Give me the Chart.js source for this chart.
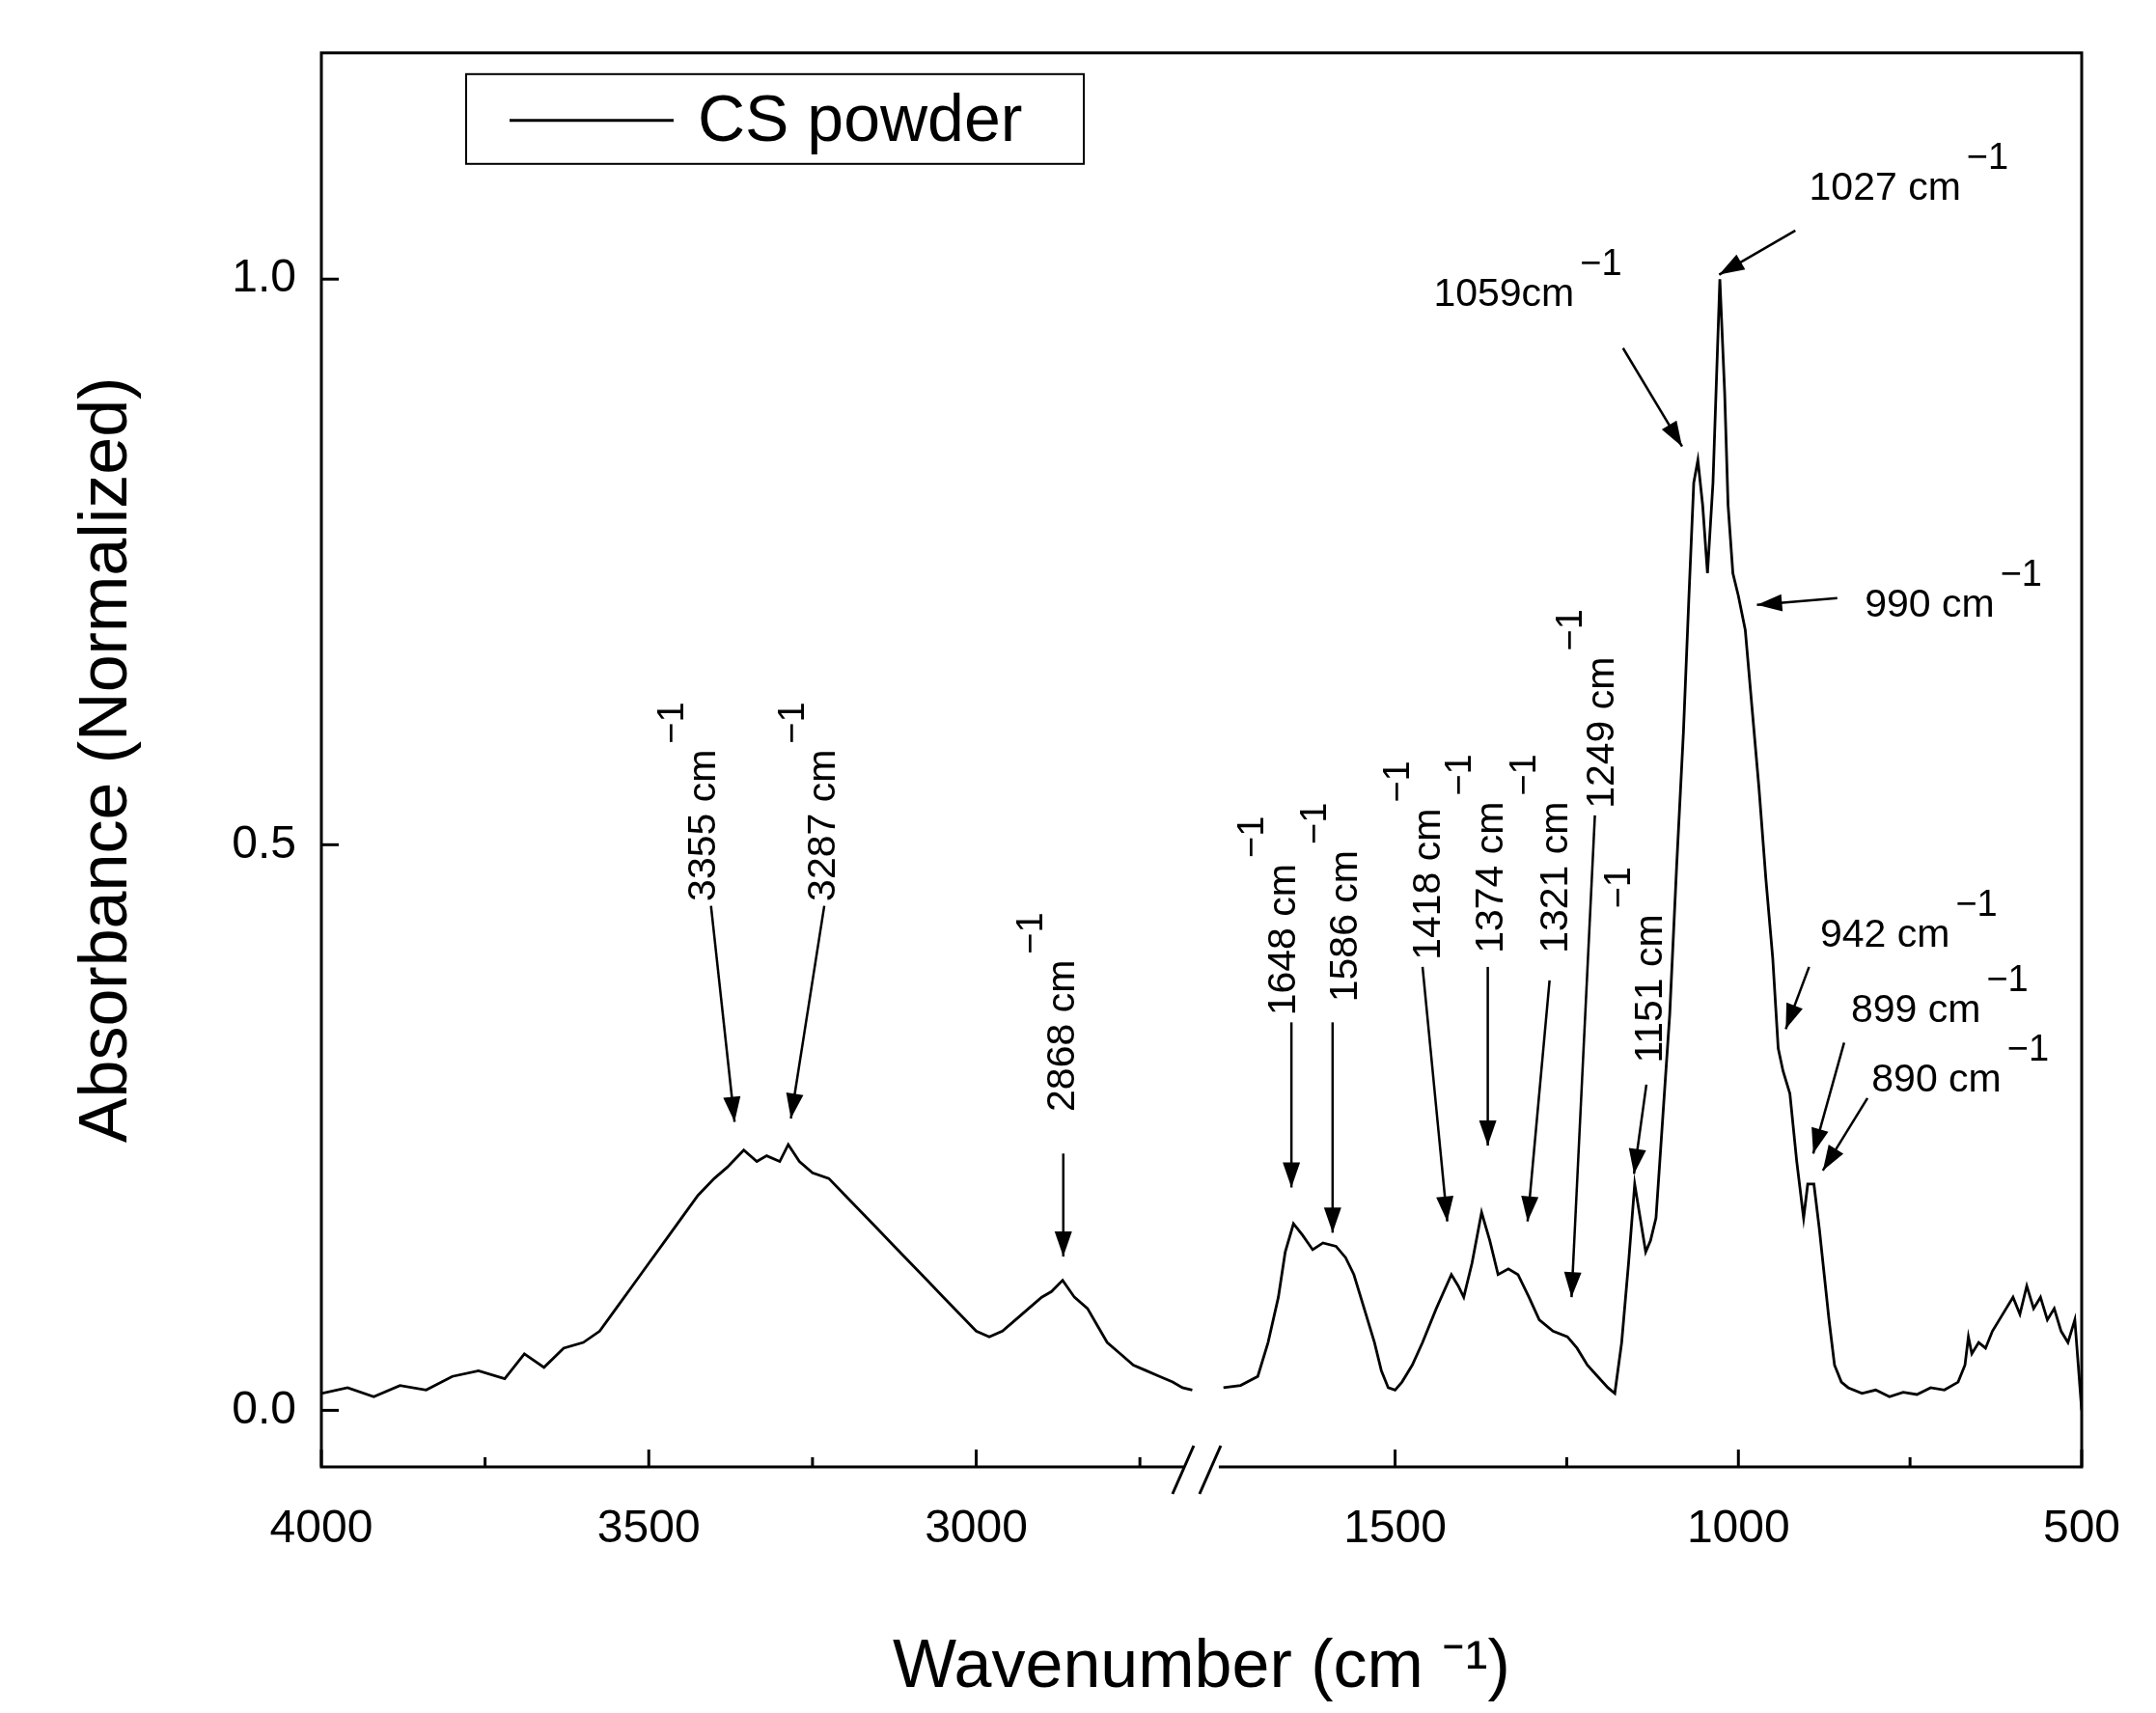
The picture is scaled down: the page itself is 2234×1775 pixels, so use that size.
<!DOCTYPE html>
<html><head><meta charset="utf-8">
<script src="https://cdn.jsdelivr.net/npm/chart.js@4"></script>
<style>html,body{margin:0;padding:0;background:#fff}#wrap{width:2234px;height:1775px}</style>
</head><body><div id="wrap"><canvas id="c"></canvas></div>
<script>
// ---- data ----
const seriesName = "CS powder";
const wnHigh = [4000,3960,3920,3880,3840,3800,3760,3720,3690,3660,3630,3600,3575,3550,3525,3500,3475,3450,3425,3400,3380,3355,3335,3320,3300,3287,3270,3250,3225,3200,3175,3150,3125,3100,3075,3050,3025,3000,2980,2960,2940,2920,2900,2885,2868,2850,2830,2815,2800,2780,2760,2740,2720,2700,2685,2670];
const absHigh = [0.015,0.02,0.012,0.022,0.018,0.03,0.035,0.028,0.05,0.038,0.055,0.06,0.07,0.09,0.11,0.13,0.15,0.17,0.19,0.205,0.215,0.23,0.22,0.225,0.22,0.235,0.22,0.21,0.205,0.19,0.175,0.16,0.145,0.13,0.115,0.1,0.085,0.07,0.065,0.07,0.08,0.09,0.1,0.105,0.115,0.1,0.09,0.075,0.06,0.05,0.04,0.035,0.03,0.025,0.02,0.018];
const wnLow = [1750,1725,1700,1685,1670,1660,1648,1635,1620,1605,1586,1572,1560,1545,1530,1520,1510,1500,1490,1475,1460,1440,1418,1408,1400,1388,1374,1362,1350,1335,1321,1305,1290,1270,1249,1235,1220,1205,1190,1180,1170,1160,1151,1143,1135,1128,1120,1110,1100,1090,1080,1072,1065,1059,1052,1045,1037,1027,1020,1015,1008,1000,990,980,970,960,950,942,935,925,915,905,899,890,882,875,868,860,850,840,820,800,780,760,740,720,700,680,670,665,660,650,640,630,620,610,600,590,580,570,560,550,540,530,520,510,505,500];
const absLow = [0.02,0.022,0.03,0.06,0.1,0.14,0.165,0.155,0.142,0.148,0.145,0.135,0.12,0.09,0.06,0.035,0.02,0.018,0.025,0.04,0.06,0.09,0.12,0.11,0.1,0.13,0.175,0.15,0.12,0.125,0.12,0.1,0.08,0.07,0.065,0.055,0.04,0.03,0.02,0.015,0.06,0.13,0.2,0.17,0.14,0.15,0.17,0.26,0.35,0.48,0.6,0.72,0.82,0.84,0.8,0.74,0.82,1.0,0.9,0.8,0.74,0.72,0.69,0.62,0.55,0.47,0.4,0.32,0.3,0.28,0.22,0.17,0.2,0.2,0.16,0.12,0.08,0.04,0.025,0.02,0.015,0.018,0.012,0.016,0.014,0.02,0.018,0.025,0.04,0.065,0.05,0.06,0.055,0.07,0.08,0.09,0.1,0.085,0.11,0.09,0.1,0.08,0.09,0.07,0.06,0.08,0.04,0.0];
const xMajorTicks = [4000,3500,3000,1500,1000,500];
const xMinorTicks = [3750,3250,2750,1250,750];
const yTicks = [0,0.5,1.0];
const yLabels = ["0.0","0.5","1.0"];
// annotations: label, rotated?, text anchor [wn,abs], arrow tail [wn,abs], arrow tip [wn,abs]
const notes = [
 ["3355 cm",true,[3415,0.45],[3405,0.446],[3369,0.255]],
 ["3287 cm",true,[3232,0.45],[3232,0.446],[3283,0.258]],
 ["2868 cm",true,[2867,0.264],[2867,0.227],[2867,0.136]],
 ["1648 cm",true,[1661,0.349],[1651,0.343],[1651,0.197]],
 ["1586 cm",true,[1571,0.361],[1591,0.343],[1591,0.157]],
 ["1418 cm",true,[1450,0.398],[1460,0.392],[1424,0.167]],
 ["1374 cm",true,[1359,0.404],[1365,0.392],[1365,0.234]],
 ["1321 cm",true,[1265,0.404],[1275,0.38],[1307,0.167]],
 ["1249 cm",true,[1198,0.532],[1209,0.526],[1243,0.1]],
 ["1151 cm",true,[1128,0.307],[1134,0.288],[1152,0.209]],
 ["1059cm",false,[1444,0.976],[1168,0.939],[1082,0.852]],
 ["1027 cm",false,[897,1.07],[917,1.043],[1028,1.004]],
 ["990 cm",false,[816,0.702],[856,0.718],[973,0.712]],
 ["942 cm",false,[881,0.41],[897,0.392],[931,0.337]],
 ["899 cm",false,[836,0.343],[846,0.325],[891,0.227]],
 ["890 cm",false,[806,0.282],[812,0.276],[877,0.212]]
];
// ---- broken axis transform ----
const BH=2656, BL=1782, KH=0.474, KL=0.497, UB=(4000-BH)*KH;
const toU = wn => wn>=BH ? (4000-wn)*KH : UB+(BL-wn)*KL;
const fromU = u => u<=UB ? 4000-u/KH : BL-(u-UB)/KL;
const F = '"Liberation Sans", Arial, sans-serif';

const overlay = {
 id:'overlay',
 afterDatasetsDraw(ch){
  const c=ch.ctx, xs=ch.scales.x, ys=ch.scales.y, a=ch.chartArea;
  const P=(wn,v)=>[xs.getPixelForValue(toU(wn)), ys.getPixelForValue(v)];
  c.save();
  c.strokeStyle='#000'; c.lineWidth=3;
  c.strokeRect(a.left,a.top,a.right-a.left,a.bottom-a.top);
  xMajorTicks.forEach(w=>{const x=xs.getPixelForValue(toU(w));c.beginPath();c.moveTo(x,a.bottom);c.lineTo(x,a.bottom-18);c.stroke();});
  xMinorTicks.forEach(w=>{const x=xs.getPixelForValue(toU(w));c.beginPath();c.moveTo(x,a.bottom);c.lineTo(x,a.bottom-10);c.stroke();});
  yTicks.forEach(v=>{const y=ys.getPixelForValue(v);c.beginPath();c.moveTo(a.left,y);c.lineTo(a.left+18,y);c.stroke();});
  const xb=xs.getPixelForValue(UB);
  c.fillStyle='#fff'; c.fillRect(xb-18,a.bottom-4,36,8);
  c.lineWidth=3; c.beginPath();
  c.moveTo(xb-30,a.bottom+28);c.lineTo(xb-8,a.bottom-22);
  c.moveTo(xb-2,a.bottom+28);c.lineTo(xb+20,a.bottom-22);c.stroke();
  // legend
  const lx=a.left+150, ly=a.top+22;
  c.lineWidth=2; c.strokeStyle='#000'; c.strokeRect(lx,ly,640,93);
  c.lineWidth=3; c.beginPath(); c.moveTo(lx+45,ly+48); c.lineTo(lx+215,ly+48); c.stroke();
  c.fillStyle='#000'; c.font='68px '+F; c.textBaseline='middle'; c.textAlign='left';
  c.fillText(seriesName, lx+240, ly+50);
  notes.forEach(([t,rot,tp,tail,tip])=>{
   const [tx,ty]=P(...tp), [ax,ay]=P(...tail), [bx,by]=P(...tip);
   c.strokeStyle='#000'; c.fillStyle='#000'; c.lineWidth=2.5;
   c.beginPath(); c.moveTo(ax,ay); c.lineTo(bx,by); c.stroke();
   const ang=Math.atan2(by-ay,bx-ax), L=26, W=9;
   c.beginPath(); c.moveTo(bx,by);
   c.lineTo(bx-L*Math.cos(ang)+W*Math.sin(ang), by-L*Math.sin(ang)-W*Math.cos(ang));
   c.lineTo(bx-L*Math.cos(ang)-W*Math.sin(ang), by-L*Math.sin(ang)+W*Math.cos(ang));
   c.closePath(); c.fill();
   c.save(); c.translate(tx,ty);
   if(rot){ c.rotate(-Math.PI/2); c.textBaseline='middle'; }
   else c.textBaseline='alphabetic';
   c.textAlign='left'; c.font='41px '+F;
   c.fillText(t,0,0);
   const w=c.measureText(t).width;
   c.font='38px '+F;
   c.fillText('\u22121', w+6, -32);
   c.restore();
  });
  c.restore();
 }
};

new Chart(document.getElementById('c'),{
 type:'line',
 data:{datasets:[
  {label:seriesName,data:wnHigh.map((w,i)=>({x:toU(w),y:absHigh[i]})),borderColor:'#000',borderWidth:2.8,pointRadius:0,tension:0},
  {label:seriesName,data:wnLow.map((w,i)=>({x:toU(w),y:absLow[i]})),borderColor:'#000',borderWidth:2.8,pointRadius:0,tension:0}
 ]},
 options:{
  responsive:true, maintainAspectRatio:false, animation:false, devicePixelRatio:1,
  layout:{padding:{top:50,right:77,left:0,bottom:0}},
  plugins:{legend:{display:false},tooltip:{enabled:false}},
  scales:{
   x:{type:'linear',min:0,max:toU(500),
     afterBuildTicks:s=>{s.ticks=xMajorTicks.map(w=>({value:toU(w)}));},
     afterFit:s=>{s.height=255;},
     grid:{display:false,drawTicks:false},border:{display:false},
     ticks:{autoSkip:false,maxRotation:0,padding:36,color:'#000',font:{family:F,size:48},
       callback:v=>String(Math.round(fromU(v)/50)*50)},
     title:{display:true,text:'Wavenumber (cm \u207B\u00B9)',color:'#000',font:{family:F,size:70},padding:{top:12}}},
   y:{type:'linear',min:-0.05,max:1.2,
     afterBuildTicks:s=>{s.ticks=yTicks.map(v=>({value:v}));},
     afterFit:s=>{s.width=333;},
     grid:{display:false,drawTicks:false},border:{display:false},
     ticks:{padding:26,color:'#000',font:{family:F,size:48},callback:(v)=>yLabels[yTicks.indexOf(v)]??''},
     title:{display:true,text:'Absorbance (Normalized)',color:'#000',font:{family:F,size:70},padding:{top:70,bottom:20}}}
  }
 },
 plugins:[overlay]
});
</script></body></html>
